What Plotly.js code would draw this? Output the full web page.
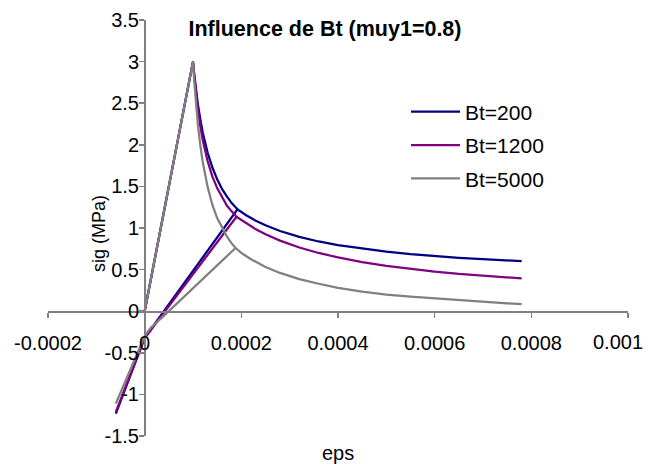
<!DOCTYPE html>
<html>
<head>
<meta charset="utf-8">
<script src="https://cdn.plot.ly/plotly-3.0.1.min.js"></script>
<style>html,body{margin:0;padding:0;background:#fff;}#chart{width:651px;height:464px;}</style>
</head>
<body>
<div id="chart"></div>
<script>
// ---- data ----
var seriesNames = ["Bt=200", "Bt=1200", "Bt=5000"];
var seriesColors = ["#000080", "#800080", "#808080"];

// Bt=200 : load, soften, unload to compression, reload, continue softening
var epsBt200 = [0, 0.0001, 0.0001025, 0.000105, 0.0001075, 0.00011, 0.000115, 0.00012, 0.00013, 0.00014, 0.00015, 0.00016, 0.00017, 0.00018, 0.000192,
  0.00004, 0.00001, 0, -0.00001, -0.00003, -0.0000596,
  -0.00003, -0.00001, 0, 0.00001, 0.00004, 0.000192,
  0.00021, 0.00023, 0.00025, 0.00028, 0.00032, 0.00036, 0.0004, 0.00045, 0.0005, 0.00055, 0.0006, 0.00065, 0.0007, 0.00075, 0.00078];
var sigBt200 = [0, 3.0, 2.85, 2.72, 2.6, 2.49, 2.31, 2.15, 1.91, 1.73, 1.585, 1.47, 1.38, 1.3, 1.224,
  0.0, -0.24, -0.32, -0.47, -0.78, -1.23,
  -0.78, -0.47, -0.32, -0.24, 0.0, 1.224,
  1.153, 1.087, 1.032, 0.964, 0.893, 0.838, 0.794, 0.75, 0.715, 0.686, 0.662, 0.642, 0.625, 0.61, 0.602];

var epsBt1200 = [0, 0.0001, 0.0001025, 0.000105, 0.0001075, 0.00011, 0.000115, 0.00012, 0.00013, 0.00014, 0.00015, 0.00016, 0.00017, 0.00018, 0.00019,
  0.000042, 0.00001, 0, -0.00001, -0.00003, -0.0000596,
  -0.00003, -0.00001, 0, 0.00001, 0.000042, 0.00019,
  0.00021, 0.00023, 0.00025, 0.00028, 0.00032, 0.00036, 0.0004, 0.00045, 0.0005, 0.00055, 0.0006, 0.00065, 0.0007, 0.00075, 0.00078];
var sigBt1200 = [0, 3.0, 2.83, 2.68, 2.55, 2.43, 2.23, 2.06, 1.81, 1.62, 1.48, 1.37, 1.27, 1.2, 1.135,
  0.0, -0.25, -0.32, -0.47, -0.77, -1.21,
  -0.77, -0.47, -0.32, -0.25, 0.0, 1.135,
  1.054, 0.984, 0.924, 0.848, 0.766, 0.7, 0.646, 0.591, 0.546, 0.508, 0.477, 0.449, 0.426, 0.405, 0.394];

var epsBt5000 = [0, 0.0001, 0.0001025, 0.000105, 0.0001075, 0.00011, 0.000115, 0.00012, 0.00013, 0.00014, 0.00015, 0.00016, 0.00017, 0.00018, 0.000188,
  0.00005, 0.0000125, 0, -0.00001, -0.00003, -0.0000596,
  -0.00003, -0.00001, 0, 0.0000125, 0.00005, 0.000188,
  0.0002, 0.00022, 0.00025, 0.00028, 0.00032, 0.00036, 0.0004, 0.00045, 0.0005, 0.00055, 0.0006, 0.00065, 0.0007, 0.00075, 0.00078];
var sigBt5000 = [0, 3.0, 2.77, 2.57, 2.4, 2.25, 2.0, 1.8, 1.5, 1.28, 1.12, 1.0, 0.9, 0.815, 0.76,
  0.0, -0.2, -0.3, -0.44, -0.71, -1.11,
  -0.71, -0.44, -0.3, -0.2, 0.0, 0.76,
  0.7, 0.625, 0.53, 0.46, 0.385, 0.33, 0.28, 0.235, 0.2, 0.175, 0.153, 0.132, 0.113, 0.095, 0.085];

var xTickVals = [-0.0002, 0, 0.0002, 0.0004, 0.0006, 0.0008, 0.001];
var xTickText = ["-0.0002", "0", "0.0002", "0.0004", "0.0006", "0.0008", "0.001"];
var yTickVals = [-1.5, -1, -0.5, 0, 0.5, 1, 1.5, 2, 2.5, 3, 3.5];
var yTickText = ["-1.5", "-1", "-0.5", "0", "0.5", "1", "1.5", "2", "2.5", "3", "3.5"];

var chartTitle = "Influence de Bt (muy1=0.8)";
var xTitle = "eps";
var yTitle = "sig (MPa)";

// ---- chart ----
var FONT = "Liberation Sans, Arial, sans-serif";
var xs = [epsBt200, epsBt1200, epsBt5000];
var ys = [sigBt200, sigBt1200, sigBt5000];
var traces = [];
for (var i = 0; i < 3; i++) {
  traces.push({
    type: "scatter", mode: "lines",
    x: xs[i], y: ys[i], name: seriesNames[i],
    legendgroup: "g" + i,
    line: {color: seriesColors[i], width: 2.25},
    hoverinfo: "skip"
  });
}
// empty helper trace so the overlay axis (edge label nudged inside the page) is drawn
traces.push({type: "scatter", mode: "none", x: [], y: [], xaxis: "x2", yaxis: "y",
  showlegend: false, hoverinfo: "skip"});

var nLast = xTickVals.length - 1;
var axisColor = "#808080";
var tickFont = {family: FONT, size: 20, color: "#000000"};
var xPos = (436 - 311) / 416;
var layout = {
  width: 651, height: 464,
  margin: {l: 48, r: 23, t: 20, b: 28, pad: 0},
  paper_bgcolor: "#ffffff", plot_bgcolor: "#ffffff",
  font: {family: FONT, size: 20, color: "#000000"},
  showlegend: true,
  legend: {
    x: (406 - 48) / 580, y: 0.828, xanchor: "left", yanchor: "top",
    bgcolor: "rgba(0,0,0,0)", borderwidth: 0,
    itemwidth: 49,
    font: {family: FONT, size: 21, color: "#000000"},
    tracegroupgap: 3
  },
  title: {
    text: "<b>" + chartTitle + "</b>",
    x: 325 / 651, xref: "container", xanchor: "center",
    y: 1 - 28 / 464, yref: "container", yanchor: "middle",
    font: {family: FONT, size: 21.5, color: "#000000"}
  },
  xaxis: {
    range: [-0.0002, 0.00100001], autorange: false,
    anchor: "free", position: xPos,
    showgrid: false, zeroline: false,
    showline: true, linecolor: axisColor, linewidth: 1.5,
    ticks: "outside", ticklen: 5, tickcolor: axisColor, tickwidth: 1.5,
    tickmode: "array", tickvals: xTickVals,
    ticktext: xTickText.slice(0, nLast).concat([""]),
    ticklabelstandoff: 8, ticklabeloverflow: "allow",
    tickfont: tickFont
  },
  xaxis2: {
    matches: "x", overlaying: "x",
    anchor: "free", position: xPos,
    showgrid: false, zeroline: false, showline: false,
    ticks: "outside", ticklen: 5, tickcolor: "rgba(0,0,0,0)", tickwidth: 1.5,
    tickmode: "array", tickvals: [xTickVals[nLast]], ticktext: [xTickText[nLast]],
    ticklabelstandoff: 8, ticklabelshift: -10, ticklabeloverflow: "allow",
    tickfont: tickFont
  },
  yaxis: {
    range: [-1.5, 3.5], autorange: false,
    anchor: "free", position: (144 - 48) / 580,
    showgrid: false, zeroline: false,
    showline: true, linecolor: axisColor, linewidth: 1.5,
    ticks: "outside", ticklen: 5, tickcolor: axisColor, tickwidth: 1.5,
    tickmode: "array", tickvals: yTickVals, ticktext: yTickText,
    ticklabelstandoff: -4, ticklabeloverflow: "allow",
    tickfont: tickFont
  },
  annotations: [
    {text: xTitle, xref: "paper", yref: "paper", x: 0.5, y: (436 - 453) / 416,
     xanchor: "center", yanchor: "middle", showarrow: false,
     font: {family: FONT, size: 20, color: "#000000"}},
    {text: yTitle, xref: "paper", yref: "paper", x: (99 - 48) / 580, y: (436 - 234) / 416,
     xanchor: "center", yanchor: "middle", textangle: -90, showarrow: false,
     font: {family: FONT, size: 18, color: "#000000"}}
  ]
};

Plotly.newPlot("chart", traces, layout, {staticPlot: true, displayModeBar: false});
</script>
</body>
</html>
